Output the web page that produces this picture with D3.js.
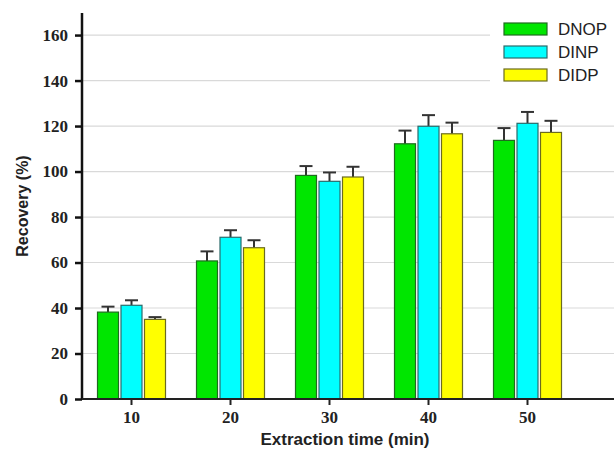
<!DOCTYPE html>
<html lang="en">
<head>
<meta charset="UTF-8">
<title>Recovery vs extraction time</title>
<style>
  body { margin: 0; background: #fff; }
  svg { display: block; }
</style>
</head>
<body>
<svg width="614" height="451"></svg>
<script src="https://d3js.org/d3.v7.min.js"></script>
<script>
const times = ["10", "20", "30", "40", "50"];
const series = ["DNOP", "DINP", "DIDP"];
const colors = ["#00e600", "#00ffff", "#ffff00"];
const strokes = ["#1f6b1f", "#2a6b6b", "#6b6b1f"];
const dnop = [38.2, 60.7, 98.3, 112.2, 113.7];
const dinp = [41.2, 71.1, 95.7, 119.9, 121.2];
const didp = [35.0, 66.5, 97.6, 116.6, 117.2];
const dnopErr = [2.4, 4.2, 4.1, 5.8, 5.4];
const dinpErr = [2.2, 3.1, 3.9, 4.9, 5.0];
const didpErr = [1.0, 3.3, 4.5, 4.9, 5.1];
const yTicks = [0, 20, 40, 60, 80, 100, 120, 140, 160];

const values = [dnop, dinp, didp];
const errors = [dnopErr, dinpErr, didpErr];

const svg = d3.select("svg");
const plotL = 82, plotR = 614, plotT = 13, plotB = 399;

const y = d3.scaleLinear().domain([0, 169.7]).range([plotB, plotT]);
const x = d3.scaleBand().domain(times).range([plotL, plotL + 5 * 99]).padding(0);
const barW = 21, barStep = 23.5;

// grid lines
svg.append("g").selectAll("line")
  .data(yTicks.filter(d => d > 0))
  .join("line")
    .attr("x1", plotL).attr("x2", plotR)
    .attr("y1", d => y(d)).attr("y2", d => y(d))
    .attr("stroke", "#d9d9d9").attr("stroke-width", 1.2);

// bars
const rows = [];
times.forEach((t, i) => {
  series.forEach((s, j) => {
    rows.push({ t, j, v: values[j][i], e: errors[j][i] });
  });
});
const bx = d => x(d.t) + x.bandwidth() / 2 + (d.j - 1) * barStep - barW / 2;

// error bars (upper only)
const eb = svg.append("g").attr("stroke", "#333").attr("stroke-width", 2);
eb.selectAll("line.v").data(rows).join("line").attr("class", "v")
  .attr("x1", d => bx(d) + barW / 2).attr("x2", d => bx(d) + barW / 2)
  .attr("y1", d => y(d.v)).attr("y2", d => y(d.v + d.e));
eb.selectAll("line.c").data(rows).join("line").attr("class", "c")
  .attr("x1", d => bx(d) + barW / 2 - 6.5).attr("x2", d => bx(d) + barW / 2 + 6.5)
  .attr("y1", d => y(d.v + d.e)).attr("y2", d => y(d.v + d.e));

svg.append("g").selectAll("rect").data(rows).join("rect")
  .attr("x", bx)
  .attr("y", d => y(d.v))
  .attr("width", barW)
  .attr("height", d => y(0) - y(d.v))
  .attr("fill", d => colors[d.j])
  .attr("stroke", d => strokes[d.j])
  .attr("stroke-width", 1.2);

// y axis
const yAxis = svg.append("g").attr("transform", `translate(${plotL},0)`)
  .call(d3.axisLeft(y).tickValues(yTicks).tickSize(7).tickPadding(7));
yAxis.select(".domain").attr("d", `M0,${plotT}V${plotB}`).attr("stroke", "#111").attr("stroke-width", 2.5);
yAxis.selectAll(".tick line").attr("stroke", "#111").attr("stroke-width", 2.5);
yAxis.selectAll("text")
  .attr("font-family", "Liberation Serif, Times New Roman, serif")
  .attr("font-weight", "bold").attr("font-size", 17).attr("fill", "#222");

// x axis
const xAxis = svg.append("g").attr("transform", `translate(0,${plotB})`)
  .call(d3.axisBottom(x).tickSize(6).tickPadding(6));
xAxis.select(".domain").attr("d", `M${plotL},0H${plotR}`).attr("stroke", "#222").attr("stroke-width", 2.2);
xAxis.selectAll(".tick line").attr("stroke", "#222").attr("stroke-width", 2);
xAxis.selectAll("text")
  .attr("font-family", "Liberation Serif, Times New Roman, serif")
  .attr("font-weight", "bold").attr("font-size", 17).attr("fill", "#222");

// axis titles
svg.append("text")
  .attr("x", 345).attr("y", 445)
  .attr("text-anchor", "middle")
  .attr("font-family", "Liberation Sans, Arial, sans-serif")
  .attr("font-weight", "bold").attr("font-size", 17).attr("fill", "#222")
  .text("Extraction time (min)");
svg.append("text")
  .attr("transform", "translate(28,206) rotate(-90)")
  .attr("text-anchor", "middle")
  .attr("font-family", "Liberation Sans, Arial, sans-serif")
  .attr("font-weight", "bold").attr("font-size", 16).attr("fill", "#222")
  .text("Recovery (%)");

// legend
const lg = svg.append("g").attr("transform", "translate(490,14)");
lg.append("rect").attr("x", 0).attr("y", 0).attr("width", 124).attr("height", 76).attr("fill", "#fff");
series.forEach((s, j) => {
  lg.append("rect")
    .attr("x", 14).attr("y", 9 + j * 23)
    .attr("width", 43).attr("height", 12)
    .attr("fill", colors[j]).attr("stroke", strokes[j]).attr("stroke-width", 1.2);
  lg.append("text")
    .attr("x", 68).attr("y", 21 + j * 23)
    .attr("font-family", "Liberation Sans, Arial, sans-serif")
    .attr("font-size", 17).attr("fill", "#222")
    .text(s);
});
</script>
</body>
</html>
